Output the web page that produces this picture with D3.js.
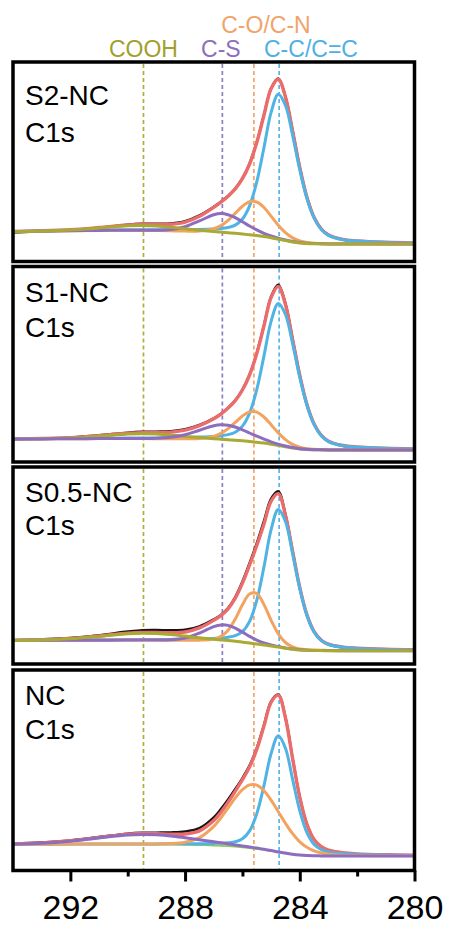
<!DOCTYPE html>
<html>
<head>
<meta charset="utf-8">
<script src="https://cdn.jsdelivr.net/npm/d3@7"></script>
<style>
  html, body { margin: 0; padding: 0; background: #fff; }
  svg { display: block; }
  text { font-family: "Liberation Sans", Arial, Helvetica, sans-serif; }
</style>
</head>
<body>
<svg id="chart" width="454" height="925"></svg>
<script>
// ---- data -----------------------------------------------------------------
// Binding energy grid (eV) shared by every C1s trace
const energies = [294, 293, 292, 291, 290, 289.5, 289, 288.5, 288, 287.5, 287, 286.75, 286.5, 286.25,
  286, 285.75, 285.5, 285.25, 285, 284.75, 284.5, 284.25, 284, 283.75, 283.5, 283.25, 283, 282.5, 282, 281, 280];

const sampleNames = ["S2-NC", "S1-NC", "S0.5-NC", "NC"];
const coreLevel = "C1s";
const speciesNames = ["COOH", "C-S", "C-O/C-N", "C-C/C=C"];
const speciesEnergies = [289.45, 286.7, 285.6, 284.72];
const xTicks = [292, 288, 284, 280];
const xMinorTicks = [290, 286, 282];

// Intensities (a.u., zero at the low-binding-energy baseline); components include the background
const s2Raw      = [11.4, 12.6, 14.0, 16.2, 19.4, 20.2, 20.3, 20.6, 22.8, 28.6, 37.2, 42.2, 48.0, 55.6, 66.0, 80.6, 101.8, 129.0, 155.8, 165.6, 147.5, 113.4, 76.8, 46.8, 26.6, 15.2, 9.2, 4.5, 2.9, 1.4, 0.8];
const s2Envelope = [12.6, 13.2, 14.3, 16.5, 19.1, 19.6, 19.6, 19.7, 21.8, 27.7, 36.7, 41.9, 47.8, 55.1, 65.3, 80.0, 101.4, 128.7, 155.2, 164.7, 147.1, 112.9, 76.4, 46.5, 26.5, 15.0, 9.0, 4.6, 3.1, 1.7, 1.1];
const s2Cooh     = [12.3, 12.9, 13.9, 15.9, 18.2, 18.5, 18.0, 16.8, 15.2, 13.8, 12.5, 11.9, 11.3, 10.7, 10.0, 9.2, 8.4, 7.4, 6.2, 4.8, 3.4, 2.1, 1.1, 0.5, 0.2, 0.1, 0, 0, 0, 0, 0];
const s2Cs       = [12.3, 12.9, 13.3, 13.6, 13.8, 13.7, 13.8, 14.5, 17.3, 23.1, 29.2, 30.4, 29.3, 26.4, 22.3, 18.0, 14.1, 10.7, 8.1, 5.8, 4.0, 2.4, 1.4, 0.7, 0.4, 0.2, 0.1, 0.1, 0.1, 0, 0];
const s2Co       = [12.3, 12.8, 13.2, 13.6, 13.7, 13.6, 13.5, 13.2, 12.9, 13.0, 15.2, 18.4, 23.7, 30.6, 37.7, 42.2, 42.0, 36.5, 27.9, 18.8, 11.4, 6.1, 3.0, 1.4, 0.7, 0.5, 0.3, 0.2, 0.2, 0.1, 0.1];
const s2Cc       = [12.5, 13.1, 13.5, 14.0, 14.2, 14.3, 14.3, 14.2, 14.2, 14.4, 14.9, 15.4, 16.5, 18.9, 25.0, 38.2, 62.1, 96.3, 131.6, 149.7, 138.5, 108.6, 74.2, 45.4, 25.8, 14.5, 8.6, 4.3, 2.9, 1.6, 1.0];

const s1Raw      = [10.8, 11.6, 12.6, 14.8, 17.4, 18.2, 18.4, 18.9, 20.8, 25.1, 31.8, 36.3, 42.2, 49.7, 60.4, 75.5, 97.0, 124.6, 153.6, 165.2, 146.6, 111.0, 74.8, 45.6, 26.0, 14.6, 8.8, 4.4, 2.8, 1.5, 0.9];
const s1Envelope = [11.2, 11.5, 12.3, 14.3, 16.8, 17.4, 17.4, 17.9, 19.8, 24.3, 31.2, 35.9, 41.9, 49.4, 60.0, 75.0, 96.5, 124.0, 152.5, 163.5, 145.5, 110.4, 74.6, 45.5, 26.0, 14.6, 8.8, 4.5, 3.0, 1.7, 1.1];
const s1Cooh     = [11.0, 11.2, 11.9, 13.7, 15.9, 16.3, 15.9, 14.9, 13.6, 12.4, 11.3, 10.8, 10.3, 9.8, 9.2, 8.5, 7.8, 6.9, 5.8, 4.5, 3.2, 2.0, 1.0, 0.5, 0.2, 0.1, 0, 0, 0, 0, 0];
const s1Cs       = [11.0, 11.1, 11.3, 11.4, 11.5, 11.5, 11.7, 12.7, 15.3, 19.8, 24.2, 25.2, 24.8, 23.0, 20.2, 17.0, 13.8, 10.9, 8.2, 5.9, 4.0, 2.5, 1.3, 0.7, 0.35, 0.2, 0.1, 0.1, 0.1, 0, 0];
const s1Co       = [11.0, 11.1, 11.2, 11.4, 11.4, 11.4, 11.3, 11.3, 11.3, 11.5, 13.6, 16.6, 21.4, 27.6, 34.0, 38.1, 37.9, 33.0, 25.3, 17.1, 10.4, 5.6, 2.7, 1.3, 0.7, 0.4, 0.3, 0.2, 0.1, 0.1, 0.1];
const s1Cc       = [11.2, 11.4, 11.5, 11.7, 11.9, 12.1, 12.1, 12.3, 12.6, 13.0, 13.6, 14.2, 15.4, 17.8, 23.9, 36.9, 60.4, 93.9, 128.6, 146.4, 135.5, 106.3, 72.6, 44.5, 25.3, 14.2, 8.4, 4.2, 2.8, 1.6, 1.0];

const s05Raw      = [10.2, 11.4, 12.8, 15.6, 19.2, 20.6, 20.8, 20.4, 20.9, 24.4, 31.4, 35.8, 42.6, 53.6, 69.2, 87.8, 107.6, 129.8, 152.0, 159.4, 136.4, 99.6, 63.0, 35.6, 19.0, 10.6, 6.3, 3.4, 2.3, 1.3, 0.8];
const s05Envelope = [10.6, 11.0, 12.2, 14.8, 17.6, 18.3, 18.2, 17.9, 18.7, 22.8, 30.4, 35.1, 41.8, 52.5, 67.6, 85.8, 105.2, 126.5, 149.5, 157.0, 135.2, 99.3, 63.2, 35.8, 19.1, 10.5, 6.5, 3.6, 2.5, 1.4, 0.9];
const s05Cooh     = [10.3, 10.7, 11.9, 14.3, 16.9, 17.5, 17.1, 16.1, 14.6, 12.9, 11.5, 10.8, 10.1, 9.5, 8.6, 7.7, 6.7, 5.7, 4.7, 3.6, 2.5, 1.5, 0.8, 0.4, 0.2, 0.1, 0, 0, 0, 0, 0];
const s05Cs       = [10.3, 10.4, 10.5, 10.5, 10.6, 10.6, 10.6, 10.9, 12.7, 17.6, 24.1, 25.8, 25.3, 22.6, 18.6, 14.3, 10.6, 7.8, 5.7, 4.2, 2.8, 1.7, 1.0, 0.5, 0.3, 0.2, 0.1, 0, 0, 0, 0];
const s05Co       = [10.3, 10.4, 10.5, 10.6, 10.6, 10.6, 10.6, 10.5, 10.5, 10.5, 11.6, 14.3, 20.5, 31.7, 45.9, 56.7, 57.1, 46.1, 30.4, 16.9, 8.2, 3.7, 1.8, 1.0, 0.6, 0.4, 0.3, 0.2, 0.1, 0.1, 0.1];
const s05Cc       = [10.5, 10.6, 10.8, 10.9, 11.0, 11.1, 11.2, 11.3, 11.5, 11.8, 12.3, 12.7, 13.5, 15.1, 19.1, 29.3, 50.3, 83.7, 121.0, 141.3, 129.2, 96.9, 62.0, 35.1, 18.6, 10.1, 6.2, 3.4, 2.3, 1.3, 0.8];

const ncRaw        = [12.4, 13.6, 15.6, 19.0, 22.4, 23.2, 23.4, 23.6, 24.5, 27.8, 38.6, 47.0, 56.6, 67.0, 78.0, 90.6, 107.8, 131.0, 154.6, 161.4, 138.6, 97.8, 59.0, 31.8, 16.4, 9.2, 5.6, 3.0, 1.9, 1.1, 0.7];
const ncEnvelope   = [12.0, 13.0, 15.2, 18.6, 21.9, 22.5, 22.4, 21.9, 22.0, 25.1, 35.4, 43.8, 53.8, 64.8, 76.3, 89.2, 106.6, 129.9, 153.7, 160.8, 138.0, 97.4, 58.7, 31.7, 16.5, 9.3, 5.8, 3.2, 2.1, 1.2, 0.8];
const ncBackground = [11.5, 11.6, 11.7, 11.7, 11.7, 11.6, 11.5, 11.4, 11.2, 10.9, 10.5, 10.2, 9.8, 9.3, 8.7, 8.0, 7.2, 6.2, 5.1, 3.9, 2.7, 1.6, 0.8, 0.4, 0.2, 0.1, 0, 0, 0, 0, 0];
const ncCooh       = [11.8, 12.7, 14.8, 18.1, 21.1, 21.6, 21.2, 20.1, 18.3, 16.3, 14.2, 13.2, 12.1, 11.1, 10.1, 9.0, 7.9, 6.7, 5.5, 4.1, 2.9, 1.7, 0.9, 0.4, 0.2, 0.1, 0, 0, 0, 0, 0];
const ncCo         = [11.6, 11.7, 11.9, 11.9, 12.1, 12.0, 12.1, 12.4, 13.8, 18.3, 29.6, 38.2, 48.1, 58.1, 66.4, 71.1, 70.8, 65.3, 55.9, 44.3, 32.7, 22.3, 14.2, 8.7, 5.1, 3.0, 1.7, 0.8, 0.5, 0.3, 0.2];
const ncCc         = [11.6, 11.8, 11.9, 12.0, 12.1, 12.1, 12.1, 12.2, 12.3, 12.3, 12.6, 12.8, 13.2, 14.2, 17.2, 25.1, 42.3, 70.3, 102.5, 120.2, 107.8, 76.6, 45.2, 23.4, 11.6, 6.4, 4.1, 2.4, 1.6, 0.9, 0.6];

// ---- styling / layout -------------------------------------------------------
const colors = {
  raw: "#151515", envelope: "#ec6b6b", cc: "#4fb3e3", co: "#f2a360",
  cs: "#8d6dbf", cooh: "#a9aa33", bg: "#8cc855"
};
const refColors = ["#aeae3c", "#8f7cc4", "#f4a468", "#5ab5e6"];
const headerColors = ["#9fa12d", "#8c6fbb", "#f0a46c", "#4fb0e4"];

const frameLeft = 13, frameRight = 414.5;
const panelTop = [62, 266.5, 467, 670];
const panelBottom = [261.5, 462, 664, 870.5];
const intensityDomains = [[-17.5, 182], [-12, 183.5], [-13.3, 183.7], [-14.5, 186]];
const nameBaselines = [104.5, 301.5, 501.5, 705];
const coreBaselines = [142, 336.5, 535, 738.5];
const headerAnchorE = [289.45, 286.75, 285.18, 283.61];
const headerBaselines = [56.5, 56.5, 33, 56.5];

// panels assembled from the arrays above (drawing order = list order)
const panels = [
  { name: sampleNames[0], raw: s2Raw, envelope: s2Envelope, refs: [0, 1, 2, 3],
    parts: [{ v: s2Cc, c: colors.cc }, { v: s2Co, c: colors.co }, { v: s2Cs, c: colors.cs }, { v: s2Cooh, c: colors.cooh }] },
  { name: sampleNames[1], raw: s1Raw, envelope: s1Envelope, refs: [0, 1, 2, 3],
    parts: [{ v: s1Cc, c: colors.cc }, { v: s1Co, c: colors.co }, { v: s1Cooh, c: colors.cooh }, { v: s1Cs, c: colors.cs }] },
  { name: sampleNames[2], raw: s05Raw, envelope: s05Envelope, refs: [0, 1, 2, 3],
    parts: [{ v: s05Cc, c: colors.cc }, { v: s05Co, c: colors.co }, { v: s05Cs, c: colors.cs }, { v: s05Cooh, c: colors.cooh }] },
  { name: sampleNames[3], raw: ncRaw, envelope: ncEnvelope, refs: [0, 2, 3],
    parts: [{ v: ncBackground, c: colors.bg, w: 1.8 }, { v: ncCc, c: colors.cc }, { v: ncCo, c: colors.co }, { v: ncCooh, c: colors.cs }] }
];

// ---- drawing ----------------------------------------------------------------
const svg = d3.select("#chart");
const x = d3.scaleLinear().domain([294, 280]).range([frameLeft, frameRight]);

// species labels above the stack
svg.append("g").selectAll("text")
  .data(speciesNames)
  .join("text")
  .attr("x", (d, i) => x(headerAnchorE[i]))
  .attr("y", (d, i) => headerBaselines[i])
  .attr("text-anchor", "middle")
  .attr("font-size", 23)
  .attr("fill", (d, i) => headerColors[i])
  .text(d => d);

panels.forEach((p, pi) => {
  const y = d3.scaleLinear().domain(intensityDomains[pi]).range([panelBottom[pi], panelTop[pi]]);
  const line = d3.line()
    .x((d, i) => x(energies[i]))
    .y(d => y(d))
    .curve(d3.curveCatmullRom.alpha(0.5));

  const g = svg.append("g").attr("class", "panel");

  // reference positions
  g.selectAll("line.ref")
    .data(p.refs)
    .join("line")
    .attr("class", "ref")
    .attr("x1", k => x(speciesEnergies[k]))
    .attr("x2", k => x(speciesEnergies[k]))
    .attr("y1", panelTop[pi] + 2)
    .attr("y2", panelBottom[pi] - 2)
    .attr("stroke", k => refColors[k])
    .attr("stroke-width", 1.7)
    .attr("stroke-dasharray", "4,3");

  // measured spectrum and fitted envelope
  g.append("path").attr("d", line(p.raw))
    .attr("fill", "none").attr("stroke", colors.raw).attr("stroke-width", 2.4);
  g.append("path").attr("d", line(p.envelope))
    .attr("fill", "none").attr("stroke", colors.envelope).attr("stroke-width", 3.4);

  // fitted components
  g.selectAll("path.part")
    .data(p.parts)
    .join("path")
    .attr("class", "part")
    .attr("d", d => line(d.v))
    .attr("fill", "none")
    .attr("stroke", d => d.c)
    .attr("stroke-width", d => d.w || 3)
    .attr("stroke-linejoin", "round");

  // frame
  g.append("rect")
    .attr("x", frameLeft).attr("y", panelTop[pi])
    .attr("width", frameRight - frameLeft)
    .attr("height", panelBottom[pi] - panelTop[pi])
    .attr("fill", "none").attr("stroke", "#000").attr("stroke-width", 3.5);

  // sample labels
  g.append("text").attr("x", 25).attr("y", nameBaselines[pi])
    .attr("font-size", 28).attr("fill", "#000").text(p.name);
  g.append("text").attr("x", 25).attr("y", coreBaselines[pi])
    .attr("font-size", 28).attr("fill", "#000").text(coreLevel);
});

// binding energy axis under the last panel
const axisY = panelBottom[panelBottom.length - 1];
const major = svg.append("g")
  .attr("transform", `translate(0,${axisY})`)
  .call(d3.axisBottom(x).tickValues(xTicks).tickSize(11).tickPadding(13).tickFormat(d3.format("d")));
major.select(".domain").remove();
major.selectAll(".tick line").attr("stroke", "#000").attr("stroke-width", 3);
major.selectAll(".tick text").attr("font-size", 34).attr("fill", "#000")
  .attr("font-family", "'Liberation Sans', Arial, sans-serif");

const minor = svg.append("g")
  .attr("transform", `translate(0,${axisY})`)
  .call(d3.axisBottom(x).tickValues(xMinorTicks).tickSize(6).tickFormat(""));
minor.select(".domain").remove();
minor.selectAll(".tick line").attr("stroke", "#000").attr("stroke-width", 3);
</script>
</body>
</html>
